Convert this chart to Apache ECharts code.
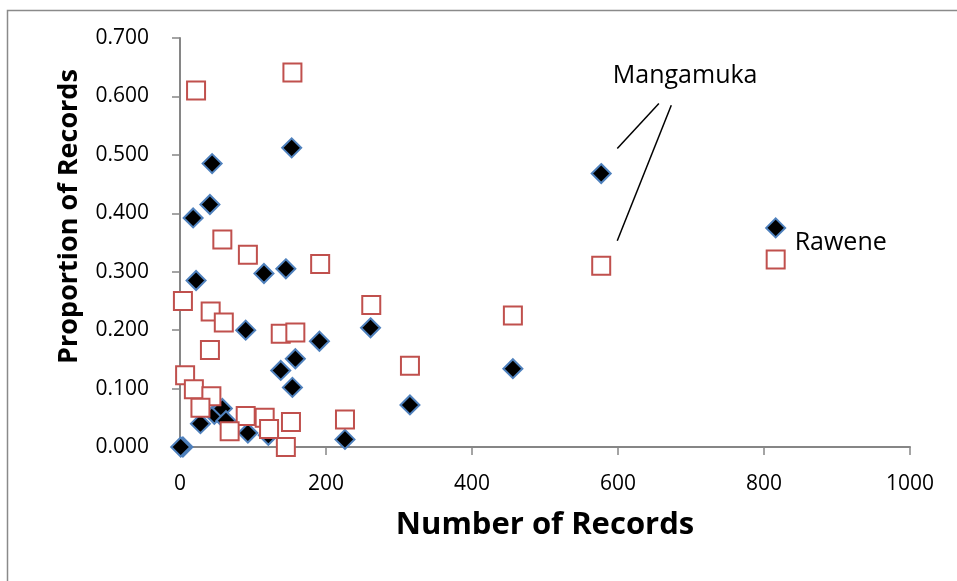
<!DOCTYPE html>
<html>
<head>
<meta charset="utf-8">
<script src="https://cdn.jsdelivr.net/npm/echarts@6/dist/echarts.min.js"></script>
<style>
  html, body { margin: 0; padding: 0; background: #fff; }
  #main { width: 957px; height: 581px; }
</style>
</head>
<body>
<div id="main"></div>
<script>
// diamonds series: [number of records, proportion]
var diamondX = [577, 816, 153, 44, 41, 18, 22, 115, 145, 90, 191, 261, 158, 138, 154, 456, 315, 226, 4, 1, 28, 47, 58, 63, 93, 121];
var diamondY = [0.468, 0.375, 0.512, 0.485, 0.415, 0.392, 0.285, 0.297, 0.305, 0.200, 0.181, 0.204, 0.151, 0.131, 0.102, 0.134, 0.072, 0.013, 0.000, 0.000, 0.040, 0.056, 0.066, 0.045, 0.024, 0.020];
// squares series
var squareX = [577, 816, 154, 22, 58, 93, 192, 4, 42, 60, 41, 138, 158, 262, 456, 315, 7, 19, 43, 28, 90, 116, 68, 122, 152, 145, 226];
var squareY = [0.310, 0.321, 0.641, 0.610, 0.355, 0.329, 0.313, 0.250, 0.232, 0.213, 0.166, 0.194, 0.196, 0.243, 0.225, 0.139, 0.123, 0.099, 0.087, 0.067, 0.053, 0.050, 0.027, 0.031, 0.043, 0.000, 0.047];
var xTicks = [0, 200, 400, 600, 800, 1000];
var yTicks = [0, 0.1, 0.2, 0.3, 0.4, 0.5, 0.6, 0.7];

function pairs(xs, ys) {
  var out = [];
  for (var i = 0; i < xs.length; i++) out.push([xs[i], ys[i]]);
  return out;
}

var font = '"Open Sans", Lato, sans-serif';
var chart = echarts.init(document.getElementById('main'), null, { renderer: 'canvas' });

var option = {
  animation: false,
  backgroundColor: '#fff',
  graphic: [{
    type: 'rect',
    left: 5, top: 8,
    shape: { width: 1000, height: 620 },
    style: { fill: 'none', stroke: '#8a8a8a', lineWidth: 1.5 },
    silent: true
  }],
  grid: { left: 180, right: 47, top: 38, bottom: 134 },
  xAxis: {
    type: 'value',
    min: xTicks[0], max: xTicks[xTicks.length - 1], interval: 200,
    name: 'Number of Records',
    nameLocation: 'middle',
    nameGap: 63,
    nameTextStyle: { fontFamily: font, fontWeight: 'bold', fontSize: 31, color: '#000' },
    axisLine: { show: true, onZero: false, lineStyle: { color: '#868686', width: 2 } },
    axisTick: { show: true, inside: false, length: 8, lineStyle: { color: '#868686', width: 1.5 } },
    axisLabel: { margin: 27, fontFamily: font, fontSize: 21, color: '#000',
      formatter: function (v) { return String(v); } },
    splitLine: { show: false }
  },
  yAxis: {
    type: 'value',
    min: yTicks[0], max: yTicks[yTicks.length - 1], interval: 0.1,
    name: 'Proportion of Records',
    nameLocation: 'middle',
    nameGap: 97,
    nameTextStyle: { fontFamily: font, fontWeight: 'bold', fontSize: 27, color: '#000', padding: [0, 0, 0, 52] },
    axisLine: { show: true, onZero: false, lineStyle: { color: '#868686', width: 2 } },
    axisTick: { show: true, inside: false, length: 8, lineStyle: { color: '#868686', width: 1.5 } },
    axisLabel: {
      margin: 31, fontFamily: font, fontSize: 21, color: '#000',
      formatter: function (v) { return v.toFixed(3); }
    },
    splitLine: { show: false }
  },
  series: [
    {
      name: 'diamonds',
      type: 'scatter',
      symbol: 'diamond',
      symbolSize: 19,
      data: pairs(diamondX, diamondY),
      itemStyle: { color: '#000', borderColor: '#4F81BD', borderWidth: 2, opacity: 1 },
      z: 2
    },
    {
      name: 'squares',
      type: 'scatter',
      symbol: 'rect',
      symbolSize: 18,
      data: pairs(squareX, squareY),
      itemStyle: { color: '#fff', borderColor: '#C0504D', borderWidth: 2, opacity: 1 },
      z: 3,
      markLine: {
        silent: true,
        symbol: 'none',
        animation: false,
        label: { show: false },
        lineStyle: { color: '#000', type: 'solid', width: 1.5 },
        data: [
          [{ coord: [599, 0.511] }, { coord: [656, 0.588] }],
          [{ coord: [599, 0.353] }, { coord: [673, 0.585] }]
        ]
      },
      markPoint: {
        silent: true,
        symbol: 'circle',
        symbolSize: 0,
        data: [
          { coord: [692, 0.636], label: { show: true, formatter: 'Mangamuka', position: 'inside', align: 'center', verticalAlign: 'middle', fontFamily: font, fontSize: 25, color: '#000' } },
          { coord: [842, 0.350], label: { show: true, formatter: 'Rawene', position: 'inside', align: 'left', verticalAlign: 'middle', fontFamily: font, fontSize: 25, color: '#000' } }
        ]
      }
    }
  ]
};
chart.setOption(option);
</script>
</body>
</html>
